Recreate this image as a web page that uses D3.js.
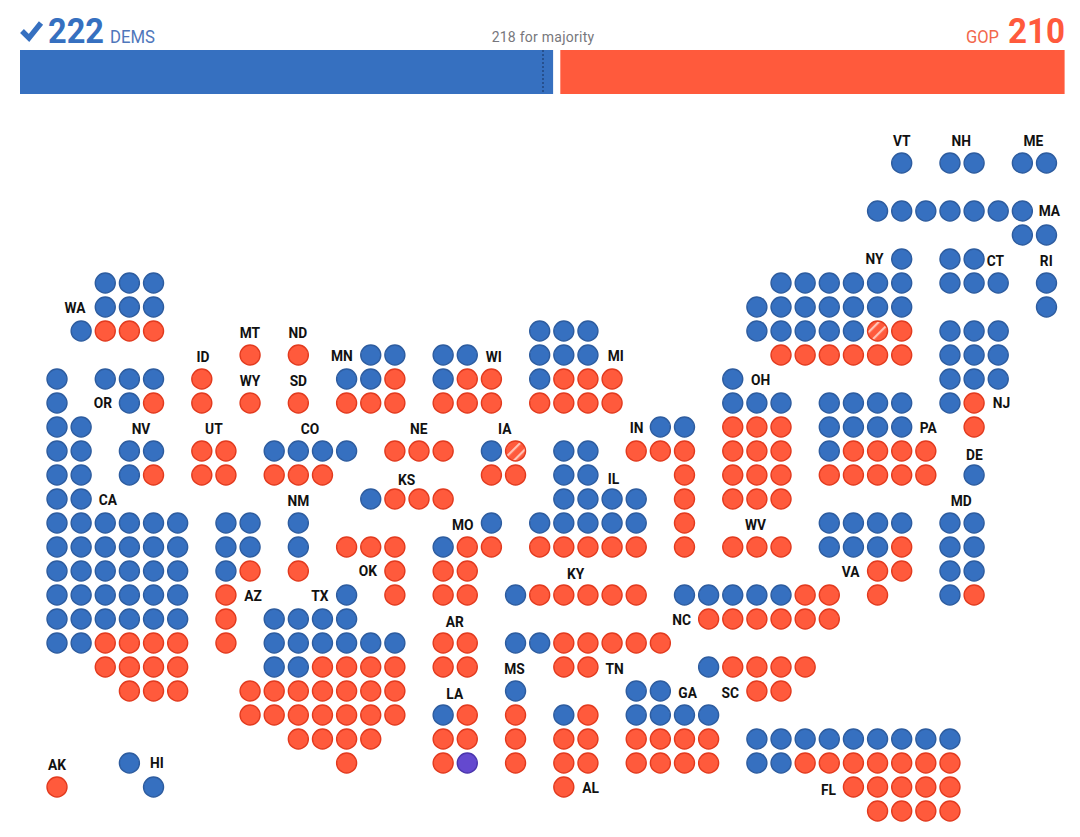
<!DOCTYPE html>
<html>
<head>
<meta charset="utf-8">
<script src="https://d3js.org/d3.v7.min.js"></script>
<style>
  body { margin: 0; background: #fff; }
  text { font-family: Roboto, "Noto Sans", sans-serif; }
</style>
</head>
<body>
<div id="chart"></div>
<script>
// seat totals
const demTotal = 222, gopTotal = 210, houseSeats = 435, majority = 218;

// grid columns of each party's seats, one list per grid row from top to bottom
const demColumns = [
    [35, 37, 38, 40, 41],
    [],
    [34, 35, 36, 37, 38, 39, 40],
    [40, 41],
    [35, 37, 38],
    [2, 3, 4, 30, 31, 32, 33, 34, 35, 37, 38, 39, 41],
    [2, 3, 4, 29, 30, 31, 32, 33, 34, 35, 41],
    [1, 20, 21, 22, 29, 30, 31, 32, 33, 37, 38, 39],
    [13, 14, 16, 17, 20, 21, 22, 37, 38, 39],
    [0, 2, 3, 4, 12, 13, 16, 20, 28, 37, 38, 39],
    [0, 3, 28, 29, 30, 32, 33, 34, 35, 37],
    [0, 1, 25, 26, 32, 33, 34, 35],
    [0, 1, 3, 4, 9, 10, 11, 12, 18, 21, 22, 32],
    [0, 1, 3, 21, 22, 38],
    [0, 1, 13, 21, 22, 23, 24],
    [0, 1, 2, 3, 4, 5, 7, 8, 10, 18, 20, 21, 22, 23, 24, 32, 33, 34, 35, 37, 38],
    [0, 1, 2, 3, 4, 5, 7, 8, 10, 16, 32, 33, 34, 37, 38],
    [0, 1, 2, 3, 4, 5, 7, 37, 38],
    [0, 1, 2, 3, 4, 5, 12, 19, 26, 27, 28, 29, 30, 37],
    [0, 1, 2, 3, 4, 5, 9, 10, 11, 12],
    [0, 1, 9, 10, 11, 12, 13, 14, 19, 20],
    [9, 10, 27],
    [19, 24, 25],
    [16, 21, 24, 25, 26, 27],
    [29, 30, 31, 32, 33, 34, 35, 36, 37],
    [3, 29, 30],
    [4],
    []
];
const gopColumns = [
    [],
    [],
    [],
    [],
    [],
    [],
    [],
    [2, 3, 4, 35],
    [8, 10, 30, 31, 32, 33, 34, 35],
    [6, 14, 17, 18, 21, 22, 23],
    [4, 6, 8, 10, 12, 13, 14, 16, 17, 18, 20, 21, 22, 23, 38],
    [28, 29, 30, 38],
    [6, 7, 14, 15, 16, 24, 25, 26, 28, 29, 30, 33, 34, 35, 36],
    [4, 6, 7, 9, 10, 11, 18, 19, 26, 28, 29, 30, 32, 33, 34, 35, 36],
    [14, 15, 16, 26, 28, 29, 30],
    [26],
    [12, 13, 14, 17, 18, 20, 21, 22, 23, 24, 26, 28, 29, 30, 35],
    [8, 10, 14, 16, 17, 34, 35],
    [7, 14, 16, 17, 20, 21, 22, 23, 24, 31, 32, 34, 38],
    [7, 27, 28, 29, 30, 31, 32],
    [2, 3, 4, 5, 7, 16, 17, 21, 22, 23, 24, 25],
    [2, 3, 4, 5, 11, 12, 13, 14, 16, 17, 21, 22, 28, 29, 30, 31],
    [3, 4, 5, 8, 9, 10, 11, 12, 13, 14, 29, 30],
    [8, 9, 10, 11, 12, 13, 14, 17, 19, 22],
    [10, 11, 12, 13, 16, 17, 19, 21, 22, 24, 25, 26, 27],
    [12, 16, 19, 21, 22, 24, 25, 26, 27, 31, 32, 33, 34, 35, 36, 37],
    [0, 21, 33, 34, 35, 36, 37],
    [34, 35, 36, 37]
];

// undecided-looking hatched seats and the one purple seat, as [column, row]
const hatchedSeats = [[34, 7], [19, 12]];
const otherSeats = [[17, 25]];

// state labels with their place on the seat grid
const stateNames = ["VT", "NH", "ME", "MA", "CT", "RI", "NY", "WA", "MT", "ND", "ID", "MN", "WI", "MI", "WY", "SD", "OR", "OH", "NJ", "IN", "PA", "NV", "UT", "CO", "NE", "IA", "DE", "KS", "IL", "CA", "NM", "MD", "MO", "WV", "OK", "VA", "KY", "AZ", "TX", "NC", "AR", "MS", "TN", "GA", "SC", "LA", "AK", "HI", "AL", "FL"];
const labelColumns = [35, 37.47, 40.46, 41.12, 38.88, 40.99, 33.87, 0.75, 7.99, 9.98, 6.05, 11.8, 18.1, 23.15, 8, 10, 1.9, 29.15, 39.13, 24.02, 36.1, 3.48, 6.5, 10.48, 14.99, 18.55, 38.01, 14.49, 23.06, 2.11, 10, 37.47, 16.81, 28.94, 12.88, 32.88, 21.49, 8.12, 10.89, 25.88, 16.48, 18.96, 23.1, 26.13, 27.9, 16.48, 0, 4.14, 22.11, 31.97];
const labelRows = [-0.92, -0.92, -0.92, 2, 4.08, 4.08, 4, 6.04, 7.08, 7.08, 8.08, 8.04, 8.08, 8.04, 9.08, 9.08, 10, 9.04, 10, 11.04, 11.04, 11.08, 11.08, 11.08, 11.08, 11.08, 12.17, 13.21, 13.17, 14.04, 14.08, 14.08, 15.08, 15.08, 17, 17.04, 17.13, 18.04, 18.04, 19.04, 19.13, 21.08, 21.08, 22.08, 22.08, 22.13, 25.08, 25, 26.04, 26.13];

// svg container
const svgWidth = 1080, svgHeight = 837;

const demColor = "#3670c0", demEdge = "#2d5c9f";
const gopColor = "#ff5a3c", gopEdge = "#e23a1e";

const svg = d3.select("#chart").append("svg")
    .attr("width", svgWidth)
    .attr("height", svgHeight)
    .style("display", "block");

// hatch for the iowa and new york seats
const hatch = svg.append("defs").append("pattern")
    .attr("id", "hatch")
    .attr("width", 8)
    .attr("height", 8)
    .attr("patternUnits", "userSpaceOnUse")
    .attr("patternTransform", "rotate(45)");
hatch.append("rect").attr("width", 8).attr("height", 8).attr("fill", gopColor);
hatch.append("rect").attr("width", 2.2).attr("height", 8).attr("fill", "#ffc4b6");

// scales
const barScale = d3.scaleLinear([0, houseSeats], [20, 1064.6]);
const xScale = d3.scaleLinear([0, 41], [57, 1046.5]);
const yScale = d3.scaleLinear([0, 27], [163, 811]);

// top bars, gop bar runs back from the right edge
svg.append("rect")
    .attr("x", barScale(0))
    .attr("y", 50)
    .attr("width", barScale(demTotal) - barScale(0))
    .attr("height", 44)
    .attr("fill", demColor);
svg.append("rect")
    .attr("x", barScale(houseSeats - gopTotal))
    .attr("y", 50)
    .attr("width", barScale(houseSeats) - barScale(houseSeats - gopTotal))
    .attr("height", 44)
    .attr("fill", gopColor);

// majority marker
svg.append("line")
    .attr("x1", barScale(majority) - 0.5)
    .attr("x2", barScale(majority) - 0.5)
    .attr("y1", 50)
    .attr("y2", 94)
    .attr("stroke", "#16305c")
    .attr("stroke-width", 1)
    .attr("stroke-dasharray", "2,2");
svg.append("text")
    .attr("x", barScale(majority) - 0.5)
    .attr("y", 42)
    .attr("text-anchor", "middle")
    .attr("fill", "#77777c")
    .style("font-size", "14px")
    .style("letter-spacing", "0.25px")
    .text(`${majority} for majority`);

// check mark and dem total
svg.append("path")
    .attr("d", "M22,31 L29,38 L41,23")
    .attr("fill", "none")
    .attr("stroke", demColor)
    .attr("stroke-width", 5.4);
svg.append("text")
    .attr("x", 48)
    .attr("y", 43)
    .attr("fill", demColor)
    .attr("textLength", 56)
    .attr("lengthAdjust", "spacingAndGlyphs")
    .style("font-size", "35px")
    .style("font-weight", 700)
    .text(demTotal);
svg.append("text")
    .attr("x", 110)
    .attr("y", 43)
    .attr("fill", "#4f77bb")
    .attr("textLength", 45)
    .attr("lengthAdjust", "spacingAndGlyphs")
    .style("font-size", "18px")
    .text("DEMS");

// gop total
svg.append("text")
    .attr("x", 1008)
    .attr("y", 43)
    .attr("fill", gopColor)
    .attr("textLength", 57)
    .attr("lengthAdjust", "spacingAndGlyphs")
    .style("font-size", "35px")
    .style("font-weight", 700)
    .text(gopTotal);
svg.append("text")
    .attr("x", 966)
    .attr("y", 43)
    .attr("fill", "#f2674c")
    .attr("textLength", 33)
    .attr("lengthAdjust", "spacingAndGlyphs")
    .style("font-size", "18px")
    .text("GOP");

// flatten the lists into seats
const seats = [];
demColumns.forEach((cols, row) => cols.forEach(col => seats.push({col, row, party: "dem"})));
gopColumns.forEach((cols, row) => cols.forEach(col => seats.push({col, row, party: "gop"})));
hatchedSeats.forEach(([col, row]) => seats.push({col, row, party: "hatched"}));
otherSeats.forEach(([col, row]) => seats.push({col, row, party: "other"}));

const fills = {dem: demColor, gop: gopColor, hatched: "url(#hatch)", other: "#6449cf"};
const edges = {dem: demEdge, gop: gopEdge, hatched: gopEdge, other: "#4a35ad"};

// plot the seats
svg.append("g").selectAll("circle")
    .data(seats)
    .enter()
    .append("circle")
    .attr("cx", d => xScale(d.col))
    .attr("cy", d => yScale(d.row))
    .attr("r", 10)
    .attr("fill", d => fills[d.party])
    .attr("stroke", d => edges[d.party])
    .attr("stroke-width", 1.4);

// state labels, squeezed a little since the original face is narrower
svg.append("g").selectAll("text")
    .data(stateNames)
    .enter()
    .append("text")
    .attr("transform", (d, i) => `translate(${xScale(labelColumns[i])}, ${yScale(labelRows[i])}) scale(0.95, 1)`)
    .attr("dy", "0.36em")
    .attr("text-anchor", "middle")
    .attr("fill", "#111")
    .style("font-size", "14.5px")
    .style("font-weight", 700)
    .text(d => d);
</script>
</body>
</html>
